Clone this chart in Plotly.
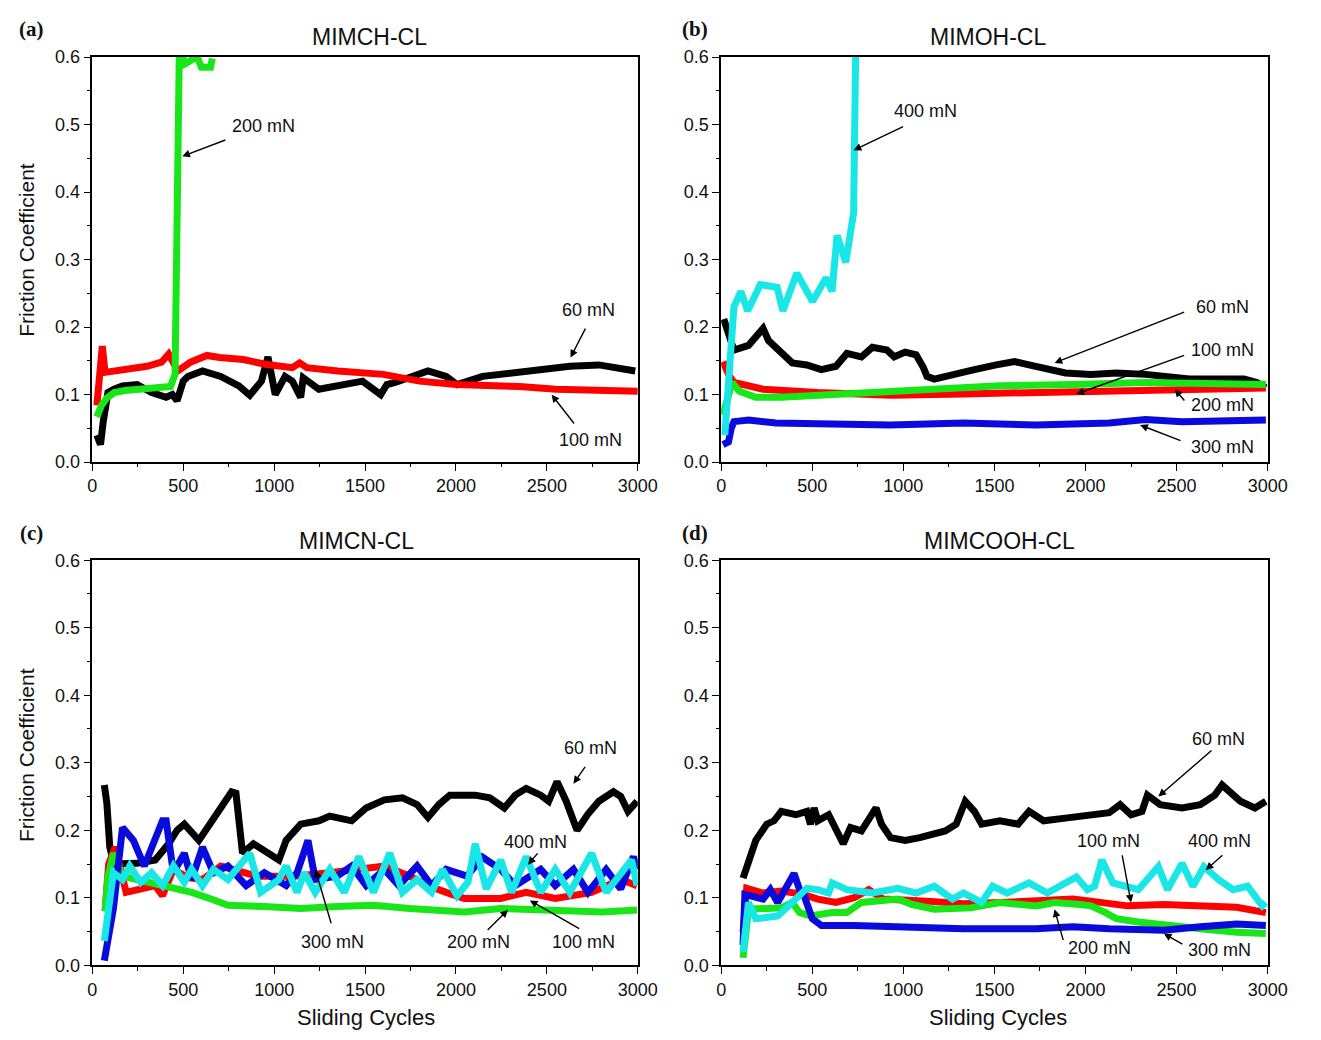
import plotly.graph_objects as go

# ---------------- data (sliding cycles, friction coefficient) ----------------
# Panel (a) MIMCH-CL
a_60 = [(25, 0.04), (35, 0.03), (45, 0.026), (60, 0.06), (86, 0.103), (120, 0.108), (166, 0.113), (246, 0.115),
        (326, 0.103), (406, 0.096), (440, 0.1), (466, 0.091), (500, 0.12), (526, 0.127), (606, 0.135), (706, 0.127),
        (806, 0.113), (866, 0.099), (930, 0.12), (966, 0.156), (1006, 0.1), (1060, 0.127), (1100, 0.12),
        (1146, 0.096), (1160, 0.125), (1246, 0.108), (1346, 0.113), (1486, 0.12), (1586, 0.1), (1620, 0.115),
        (1666, 0.118), (1746, 0.125), (1846, 0.135), (1946, 0.127), (2006, 0.115), (2146, 0.127), (2306, 0.132),
        (2446, 0.137), (2626, 0.142), (2786, 0.144), (2986, 0.135)]
a_100 = [(25, 0.084), (40, 0.12), (55, 0.172), (70, 0.133), (120, 0.135), (200, 0.138), (300, 0.142), (380, 0.148),
         (420, 0.16), (440, 0.15), (470, 0.135), (540, 0.148), (630, 0.158), (700, 0.155), (830, 0.152),
         (950, 0.145), (1100, 0.14), (1140, 0.147), (1180, 0.14), (1350, 0.135), (1600, 0.13), (1800, 0.12),
         (2000, 0.115), (2350, 0.112), (2550, 0.108), (3000, 0.105)]
a_200 = [(25, 0.067), (50, 0.084), (80, 0.095), (120, 0.103), (180, 0.106), (250, 0.108), (350, 0.11),
         (430, 0.112), (455, 0.13), (478, 0.598), (500, 0.598), (510, 0.59), (560, 0.598), (580, 0.598),
         (600, 0.585), (650, 0.585), (660, 0.598)]

# Panel (b) MIMOH-CL
b_60 = [(14, 0.212), (40, 0.19), (70, 0.166), (150, 0.173), (230, 0.198), (260, 0.18), (310, 0.166), (390, 0.147),
        (470, 0.144), (550, 0.137), (630, 0.142), (690, 0.161), (770, 0.156), (830, 0.17), (910, 0.166),
        (950, 0.156), (1010, 0.163), (1070, 0.159), (1110, 0.14), (1130, 0.127), (1170, 0.123), (1290, 0.132),
        (1390, 0.137), (1510, 0.144), (1610, 0.149), (1690, 0.144), (1790, 0.137), (1890, 0.132), (2030, 0.13),
        (2170, 0.132), (2330, 0.13), (2470, 0.127), (2570, 0.123), (2870, 0.123), (2940, 0.118), (2990, 0.11)]
b_100 = [(10, 0.149), (40, 0.13), (70, 0.118), (150, 0.112), (230, 0.108), (530, 0.103), (930, 0.099),
         (1330, 0.101), (1730, 0.103), (2130, 0.106), (2530, 0.108), (2990, 0.11)]
b_200 = [(10, 0.07), (40, 0.1), (60, 0.118), (100, 0.105), (190, 0.096), (330, 0.096), (730, 0.101),
         (1130, 0.106), (1530, 0.113), (1930, 0.115), (2330, 0.118), (2990, 0.115)]
b_300 = [(10, 0.026), (40, 0.03), (55, 0.05), (70, 0.06), (150, 0.0625), (300, 0.058), (530, 0.057), (930, 0.055),
         (1330, 0.058), (1730, 0.055), (2130, 0.058), (2330, 0.063), (2530, 0.06), (2990, 0.0625)]
b_400 = [(20, 0.04), (45, 0.15), (70, 0.23), (108, 0.253), (145, 0.224), (215, 0.263), (307, 0.259), (339, 0.224),
         (415, 0.28), (501, 0.238), (576, 0.273), (609, 0.253), (636, 0.336), (684, 0.296), (711, 0.346),
         (727, 0.369), (738, 0.6), (750, 0.66)]

# Panel (c) MIMCN-CL
c_60 = [(66, 0.267), (80, 0.24), (96, 0.175), (120, 0.15), (246, 0.151), (346, 0.156), (420, 0.18), (466, 0.2),
        (506, 0.209), (586, 0.185), (706, 0.233), (766, 0.257), (790, 0.255), (826, 0.166), (886, 0.18),
        (986, 0.161), (1026, 0.156), (1066, 0.185), (1146, 0.209), (1246, 0.214), (1306, 0.221), (1426, 0.214),
        (1506, 0.233), (1606, 0.245), (1706, 0.248), (1786, 0.238), (1846, 0.219), (1906, 0.238), (1966, 0.252),
        (2106, 0.252), (2186, 0.248), (2266, 0.233), (2326, 0.252), (2386, 0.262), (2466, 0.252), (2510, 0.243),
        (2556, 0.272), (2606, 0.243), (2666, 0.2), (2726, 0.224), (2786, 0.243), (2866, 0.257), (2906, 0.25),
        (2946, 0.228), (2996, 0.243)]
c_100 = [(70, 0.08), (90, 0.15), (126, 0.175), (186, 0.108), (346, 0.118), (386, 0.103), (446, 0.142),
         (526, 0.13), (606, 0.127), (706, 0.147), (906, 0.132), (1106, 0.132), (1306, 0.137), (1606, 0.147),
         (1746, 0.132), (1846, 0.118), (1946, 0.108), (2046, 0.099), (2246, 0.099), (2386, 0.108), (2546, 0.099),
         (2746, 0.108), (2906, 0.127), (2996, 0.118)]
c_200 = [(70, 0.08), (85, 0.13), (116, 0.166), (166, 0.132), (246, 0.127), (406, 0.118), (546, 0.108),
         (646, 0.099), (746, 0.089), (946, 0.087), (1146, 0.084), (1346, 0.087), (1546, 0.089), (1746, 0.084),
         (2046, 0.079), (2246, 0.084), (2446, 0.082), (2646, 0.079), (2806, 0.079), (2996, 0.082)]
c_300 = [(66, 0.007), (90, 0.04), (116, 0.084), (166, 0.204), (226, 0.185), (286, 0.147), (386, 0.214),
         (406, 0.214), (446, 0.137), (506, 0.166), (546, 0.127), (606, 0.175), (666, 0.137), (746, 0.147),
         (846, 0.118), (946, 0.137), (1066, 0.118), (1126, 0.137), (1186, 0.185), (1226, 0.127), (1346, 0.132),
         (1426, 0.147), (1506, 0.118), (1606, 0.142), (1686, 0.118), (1786, 0.147), (1866, 0.118), (1946, 0.142),
         (2060, 0.132), (2146, 0.16), (2246, 0.142), (2326, 0.118), (2466, 0.142), (2546, 0.118), (2646, 0.142),
         (2726, 0.108), (2826, 0.142), (2906, 0.113), (2976, 0.161), (2996, 0.142)]
c_400 = [(66, 0.036), (90, 0.09), (116, 0.137), (166, 0.127), (206, 0.147), (266, 0.123), (326, 0.137),
         (386, 0.118), (446, 0.147), (506, 0.123), (546, 0.142), (606, 0.118), (666, 0.142), (746, 0.127),
         (866, 0.166), (926, 0.108), (1026, 0.127), (1066, 0.147), (1126, 0.108), (1166, 0.137), (1226, 0.108),
         (1306, 0.142), (1386, 0.108), (1466, 0.161), (1546, 0.108), (1636, 0.166), (1706, 0.108), (1786, 0.127),
         (1866, 0.108), (1926, 0.142), (2006, 0.103), (2066, 0.123), (2106, 0.18), (2166, 0.113), (2246, 0.156),
         (2306, 0.108), (2386, 0.161), (2466, 0.108), (2546, 0.142), (2626, 0.108), (2746, 0.166), (2826, 0.108),
         (2906, 0.137), (2966, 0.156), (2996, 0.118)]

# Panel (d) MIMCOOH-CL
d_60 = [(120, 0.129), (150, 0.156), (190, 0.185), (250, 0.209), (290, 0.214), (330, 0.228), (410, 0.223),
        (470, 0.228), (490, 0.209), (510, 0.233), (530, 0.214), (590, 0.223), (650, 0.194), (670, 0.18),
        (710, 0.204), (770, 0.199), (850, 0.233), (880, 0.209), (930, 0.189), (1010, 0.185), (1090, 0.189),
        (1170, 0.194), (1230, 0.199), (1290, 0.209), (1340, 0.243), (1390, 0.228), (1430, 0.209), (1530, 0.214),
        (1630, 0.209), (1690, 0.228), (1770, 0.214), (1890, 0.218), (2030, 0.223), (2130, 0.226), (2190, 0.238),
        (2250, 0.223), (2310, 0.228), (2340, 0.252), (2410, 0.238), (2530, 0.233), (2630, 0.238), (2710, 0.252),
        (2750, 0.267), (2790, 0.257), (2850, 0.243), (2930, 0.233), (2990, 0.243)]
d_100 = [(120, 0.049), (140, 0.114), (230, 0.107), (330, 0.11), (450, 0.105), (530, 0.098), (630, 0.093),
         (730, 0.1), (810, 0.112), (890, 0.098), (1130, 0.095), (1230, 0.093), (1330, 0.091), (1530, 0.093),
         (1730, 0.095), (1930, 0.098), (2030, 0.095), (2230, 0.088), (2430, 0.09), (2630, 0.088), (2830, 0.086),
         (2990, 0.078)]
d_200 = [(120, 0.011), (150, 0.083), (330, 0.085), (390, 0.093), (430, 0.078), (490, 0.073), (610, 0.078),
         (690, 0.078), (770, 0.093), (970, 0.098), (1050, 0.09), (1170, 0.083), (1370, 0.085), (1530, 0.093),
         (1730, 0.088), (1830, 0.093), (1970, 0.09), (2030, 0.088), (2110, 0.078), (2170, 0.069), (2290, 0.064),
         (2430, 0.059), (2630, 0.054), (2830, 0.049), (2990, 0.047)]
d_300 = [(120, 0.03), (130, 0.105), (230, 0.098), (270, 0.112), (310, 0.093), (360, 0.117), (400, 0.136),
         (430, 0.112), (450, 0.107), (500, 0.069), (550, 0.059), (730, 0.059), (930, 0.057), (1330, 0.054),
         (1730, 0.054), (1930, 0.057), (2130, 0.054), (2430, 0.052), (2630, 0.057), (2830, 0.061), (2990, 0.059)]
d_400 = [(120, 0.02), (150, 0.093), (190, 0.069), (310, 0.073), (370, 0.088), (430, 0.102), (470, 0.114),
         (530, 0.112), (590, 0.107), (610, 0.122), (690, 0.112), (830, 0.107), (970, 0.114), (1070, 0.107),
         (1170, 0.117), (1270, 0.098), (1330, 0.107), (1430, 0.093), (1490, 0.117), (1570, 0.107), (1690, 0.122),
         (1790, 0.107), (1890, 0.122), (1950, 0.131), (2010, 0.112), (2050, 0.117), (2090, 0.156), (2150, 0.122),
         (2290, 0.112), (2400, 0.146), (2450, 0.112), (2530, 0.151), (2590, 0.117), (2650, 0.146), (2730, 0.127),
         (2810, 0.112), (2890, 0.117), (2970, 0.088), (2990, 0.093)]

panel_titles = ["MIMCH-CL", "MIMOH-CL", "MIMCN-CL", "MIMCOOH-CL"]
panel_letters = ["(a)", "(b)", "(c)", "(d)"]
x_ticks = [0, 500, 1000, 1500, 2000, 2500, 3000]
y_ticks = [0.0, 0.1, 0.2, 0.3, 0.4, 0.5, 0.6]

colors = {"60": "#000000", "100": "#FF0000", "200": "#19E619", "300": "#0A0ADC", "400": "#19E6E6"}

panels = [
    [("60", a_60), ("100", a_100), ("200", a_200)],
    [("60", b_60), ("100", b_100), ("200", b_200), ("300", b_300), ("400", b_400)],
    [("60", c_60), ("100", c_100), ("200", c_200), ("300", c_300), ("400", c_400)],
    [("60", d_60), ("100", d_100), ("200", d_200), ("300", d_300), ("400", d_400)],
]

# labels: (text, text x, text y, arrow tail x, tail y, head x, head y)
labels = [
    [("200 mN", 940, 0.498, 740, 0.478, 495, 0.453),
     ("60 mN", 2730, 0.225, 2716, 0.2, 2630, 0.155),
     ("100 mN", 2741, 0.033, 2656, 0.055, 2526, 0.1)],
    [("400 mN", 1120, 0.52, 1007, 0.498, 727, 0.462),
     ("60 mN", 2752, 0.2295, 2550, 0.223, 1830, 0.147),
     ("100 mN", 2752, 0.166, 2550, 0.159, 1950, 0.101),
     ("200 mN", 2752, 0.084, 2550, 0.089, 2490, 0.108),
     ("300 mN", 2752, 0.023, 2530, 0.031, 2300, 0.055)],
    [("60 mN", 2741, 0.3225, 2716, 0.296, 2646, 0.269),
     ("400 mN", 2439, 0.183, 2456, 0.168, 2396, 0.149),
     ("300 mN", 1322, 0.035, 1316, 0.06, 1226, 0.142),
     ("200 mN", 2126, 0.035, 2166, 0.05, 2286, 0.082),
     ("100 mN", 2704, 0.035, 2686, 0.053, 2406, 0.096)],
    [("60 mN", 2731, 0.3356, 2700, 0.32, 2400, 0.25),
     ("100 mN", 2129, 0.184, 2200, 0.165, 2250, 0.093),
     ("400 mN", 2737, 0.184, 2760, 0.165, 2660, 0.141),
     ("200 mN", 2075, 0.025, 1880, 0.035, 1830, 0.083),
     ("300 mN", 2736, 0.023, 2540, 0.03, 2430, 0.047)],
]

W, H = 1321, 1040


def px(x):
    return x / W


def py(y):
    return 1 - y / H


x_dom = [[px(89), px(645)], [px(730), px(1287)]]
y_dom = [[py(461), py(48)], [py(974), py(561)]]
title_pos = [(372, 28), (1002, 28), (358, 541), (1014, 541)]
letter_pos = [(27, 19), (703, 19), (27, 533), (703, 533)]

FONT = "Arial, 'Liberation Sans', sans-serif"

fig = go.Figure()
annotations = []
layout = {}
for i, series in enumerate(panels):
    r, c = divmod(i, 2)
    n = "" if i == 0 else str(i + 1)
    xa, ya = "x" + n, "y" + n
    for name, pts in series:
        fig.add_trace(go.Scatter(
            x=[p[0] for p in pts], y=[p[1] for p in pts], mode="lines",
            line=dict(color=colors[name], width=7), xaxis=xa, yaxis=ya,
            showlegend=False, hoverinfo="skip"))
    layout["xaxis" + n] = dict(
        domain=x_dom[c], anchor=ya, range=[0, 3000], tickvals=x_ticks,
        ticks="outside", ticklen=7, tickwidth=1.3, tickcolor="black",
        minor=dict(ticks="outside", ticklen=3.5, tickwidth=1.2, dtick=250, tick0=0, tickcolor="black"),
        showline=True, linecolor="black", linewidth=1.5, mirror=True, showgrid=False, zeroline=False,
        tickfont=dict(family=FONT, size=18, color="#111"))
    layout["yaxis" + n] = dict(
        domain=y_dom[r], anchor=xa, range=[0, 0.6], tickvals=y_ticks, tickformat=".1f",
        ticks="outside", ticklen=7, tickwidth=1.3, tickcolor="black",
        minor=dict(ticks="outside", ticklen=3.5, tickwidth=1.2, dtick=0.05, tick0=0, tickcolor="black"),
        showline=True, linecolor="black", linewidth=1.5, mirror=True, showgrid=False, zeroline=False,
        tickfont=dict(family=FONT, size=18, color="#111"))
    tx, ty = title_pos[i]
    annotations.append(dict(text=panel_titles[i], x=px(tx), y=py(ty), xref="paper", yref="paper",
                            showarrow=False, font=dict(family=FONT, size=23, color="#111"),
                            xanchor="center", yanchor="middle"))
    lx, ly = letter_pos[i]
    annotations.append(dict(text="<b>" + panel_letters[i] + "</b>", x=px(lx), y=py(ly), xref="paper",
                            yref="paper", showarrow=False,
                            font=dict(family="'Times New Roman', 'Liberation Serif', serif", size=21, color="#111"),
                            xanchor="center", yanchor="middle"))
    for (txt, tx_, ty_, ax_, ay_, hx, hy) in labels[i]:
        annotations.append(dict(text=txt, x=tx_, y=ty_, xref=xa, yref=ya, showarrow=False,
                                font=dict(family=FONT, size=18, color="#111"),
                                xanchor="center", yanchor="middle"))
        annotations.append(dict(text="", x=hx, y=hy, xref=xa, yref=ya, ax=ax_, ay=ay_, axref=xa, ayref=ya,
                                showarrow=True, arrowhead=2, arrowsize=1.1, arrowwidth=1.4,
                                arrowcolor="black", standoff=0))

for yc in (245, 760):
    annotations.append(dict(text="Friction Coefficient", x=px(22), y=py(yc), xref="paper", yref="paper",
                            showarrow=False, textangle=-90, font=dict(family=FONT, size=21, color="#111"),
                            xanchor="center", yanchor="middle"))
for xc in (368, 1012):
    annotations.append(dict(text="Sliding Cycles", x=px(xc), y=py(1027), xref="paper", yref="paper",
                            showarrow=False, font=dict(family=FONT, size=22, color="#111"),
                            xanchor="center", yanchor="middle"))

fig.update_layout(width=W, height=H, autosize=False, margin=dict(l=0, r=0, t=0, b=0),
                  paper_bgcolor="white", plot_bgcolor="white", annotations=annotations, **layout)

fig.write_html("out.html")
